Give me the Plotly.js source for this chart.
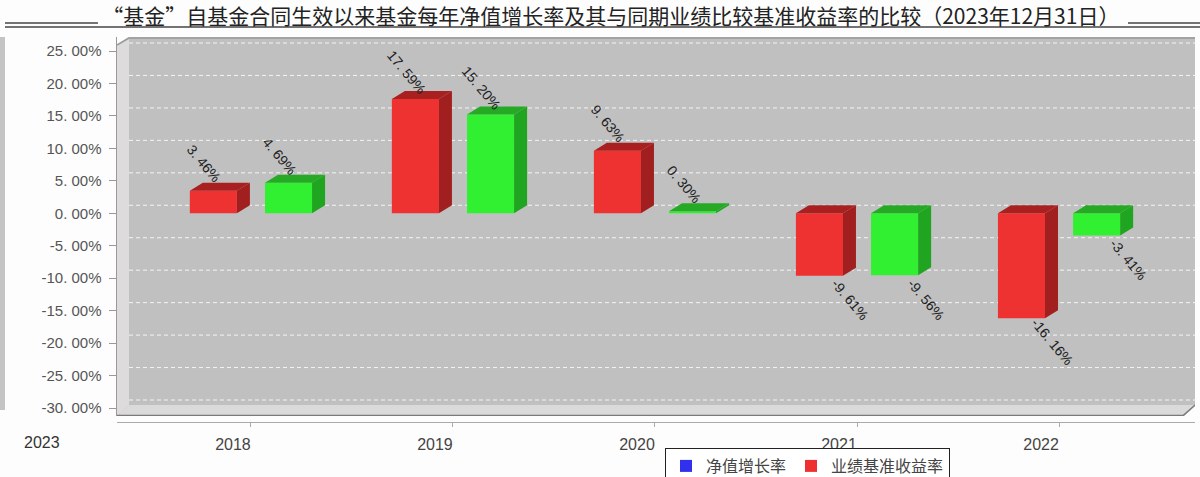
<!DOCTYPE html>
<html><head><meta charset="utf-8">
<script src="https://cdn.plot.ly/plotly-3.0.1.min.js"></script>
<style>html,body{margin:0;padding:0;background:#fdfdfd;}#chart{width:1200px;height:477px;}</style>
</head><body><div id="chart"></div>
<script>
// ---------- data ----------
const years = ['2018', '2019', '2020', '2021', '2022'];
const redValues = [3.46, 17.59, 9.63, -9.61, -16.16];
const greenValues = [4.69, 15.20, 0.30, -9.56, -3.41];
const yTickVals = [25, 20, 15, 10, 5, 0, -5, -10, -15, -20, -25, -30];
const yTickText = ['25. 00%', '20. 00%', '15. 00%', '10. 00%', '5. 00%', '0. 00%', '-5. 00%', '-10. 00%', '-15. 00%', '-20. 00%', '-25. 00%', '-30. 00%'];
const legendNames = ['净值增长率', '业绩基准收益率'];
const titleText = '“基金”自基金合同生效以来基金每年净值增长率及其与同期业绩比较基准收益率的比较（2023年12月31日）';
const strayLabel = '2023';

// ---------- geometry helpers ----------
const W = 1200, H = 477, ML = 117, MR = 5, MT = 37, MB = 55;
const plotBottom = 416;
const pxPerCat = 202;
const xr0 = -0.663, xr1 = 4.673;
const yr0 = -31.233, yr1 = 27.157;
const kY = (plotBottom - MT) / (yr1 - yr0);
const X = px => xr0 + (px - ML) / pxPerCat;
const Y = py => yr1 - (py - MT) / kY;
const PX = px => (px - ML) / (W - ML - MR);
const PY = py => ((H - MB) - py) / (H - MT - MB);
const dX = 13 / pxPerCat, dY = 8 / kY;
const barW = 0.233, half = 0.186;
const CJK = 'Noto Sans CJK SC, Liberation Sans, sans-serif';
const LAT = 'Liberation Sans, Noto Sans CJK SC, sans-serif';

const idx = years.map((_, i) => i);
const fmt = v => v.toFixed(2).replace('.', '. ') + '%';

function faces(values, center) {
  const top = {x: [], y: []}, side = {x: [], y: []};
  values.forEach((v, i) => {
    const xl = i + center - barW / 2, xr = i + center + barW / 2;
    const t = Math.max(v, 0), b = Math.min(v, 0);
    top.x.push(xl, xr, xr + dX, xl + dX, xl, null);
    top.y.push(t, t, t + dY, t + dY, t, null);
    side.x.push(xr, xr + dX, xr + dX, xr, xr, null);
    side.y.push(t, t + dY, b + dY, b, t, null);
  });
  return {top, side};
}

function faceTraces(values, center, topColor, sideColor) {
  const f = faces(values, center);
  const base = {type: 'scatter', mode: 'lines', fill: 'toself', line: {width: 0}, hoverinfo: 'skip', showlegend: false};
  return [
    Object.assign({}, base, {x: f.top.x, y: f.top.y, fillcolor: topColor}),
    Object.assign({}, base, {x: f.side.x, y: f.side.y, fillcolor: sideColor})
  ];
}

const traces = [];
traces.push({type: 'bar', x: idx, y: redValues, width: barW, offset: -half - barW / 2,
  marker: {color: '#ee3131', line: {width: 0}}, showlegend: false, hoverinfo: 'skip'});
traces.push({type: 'bar', x: idx, y: greenValues, width: barW, offset: half - barW / 2,
  marker: {color: '#31f031', line: {width: 0}}, showlegend: false, hoverinfo: 'skip'});
traces.push(...faceTraces(redValues, -half, '#a82020', '#a21f1f'));
traces.push(...faceTraces(greenValues, half, '#26aa26', '#20a520'));
// legend entries
traces.push({type: 'bar', x: [null], y: [null], name: legendNames[0], marker: {color: '#3030ee'}, showlegend: true, hoverinfo: 'skip'});
traces.push({type: 'bar', x: [null], y: [null], name: legendNames[1], marker: {color: '#ee3030'}, showlegend: true, hoverinfo: 'skip'});

// ---------- annotations ----------
const annotations = [];
[[redValues, -half], [greenValues, half]].forEach(([vals, c]) => {
  vals.forEach((v, i) => {
    const pos = v >= 0;
    annotations.push({x: i + c, y: v, xref: 'x', yref: 'y', text: fmt(v), showarrow: false,
      textangle: 50, font: {family: LAT, size: 14, color: '#222'},
      xanchor: 'center', yanchor: 'middle',
      xshift: pos ? -9 : 31, yshift: pos ? 27 : -24});
  });
});
annotations.push({xref: 'paper', yref: 'paper', x: PX(42), y: PY(442), text: strayLabel, showarrow: false,
  font: {family: LAT, size: 16, color: '#333'}, xanchor: 'center', yanchor: 'middle'});

// ---------- shapes ----------
const path = pts => 'M' + pts.map(p => X(p[0]) + ',' + Y(p[1])).join(' L') + ' Z';
const shapes = [];
yTickVals.forEach(v => {
  shapes.push({type: 'line', xref: 'x', yref: 'y', layer: 'between', x0: X(129), x1: xr1, y0: v + dY, y1: v + dY,
    line: {color: '#f4f4f4', width: 1, dash: '4px,3px'}});
});
shapes.push({type: 'path', xref: 'x', yref: 'y', layer: 'between', path: path([[117, 45], [129, 37], [129, 405], [117, 416]]),
  fillcolor: '#dcdcdc', line: {width: 0}});
shapes.push({type: 'path', xref: 'x', yref: 'y', layer: 'between', path: path([[117, 416], [1183, 416], [1195, 405], [129, 405]]),
  fillcolor: '#dadada', line: {width: 0}});
shapes.push({type: 'path', xref: 'x', yref: 'y', layer: 'between', path: path([[116, 36], [130, 36], [116, 45]]),
  fillcolor: '#fdfdfd', line: {width: 0}});
shapes.push({type: 'path', xref: 'x', yref: 'y', layer: 'between', path: path([[1183, 417], [1196, 417], [1196, 405]]),
  fillcolor: '#fdfdfd', line: {width: 0}});
shapes.push({type: 'path', xref: 'x', yref: 'y', layer: 'between',
  path: 'M' + X(117) + ',' + Y(45) + ' L' + X(129) + ',' + Y(38) + ' L' + X(1195) + ',' + Y(38),
  line: {color: '#999', width: 1.5}});
shapes.push({type: 'path', xref: 'x', yref: 'y', layer: 'between',
  path: 'M' + X(117) + ',' + Y(415.5) + ' L' + X(1183) + ',' + Y(415.5) + ' L' + X(1195) + ',' + Y(405),
  line: {color: '#7a7a7a', width: 1.5}});
shapes.push({type: 'line', xref: 'paper', yref: 'paper', x0: PX(5), x1: PX(1200), y0: PY(27), y1: PY(27), line: {color: '#444', width: 1.5}});
shapes.push({type: 'line', xref: 'paper', yref: 'paper', x0: PX(5), x1: PX(98), y0: PY(23), y1: PY(23), line: {color: '#444', width: 1.5}});
shapes.push({type: 'line', xref: 'paper', yref: 'paper', x0: PX(1128), x1: PX(1200), y0: PY(23), y1: PY(23), line: {color: '#444', width: 1.5}});
shapes.push({type: 'rect', xref: 'paper', yref: 'paper', x0: PX(0), x1: PX(5), y0: PY(410), y1: PY(37), fillcolor: '#c4c4c4', line: {width: 0}});

const layout = {
  width: W, height: H,
  margin: {l: ML, r: MR, t: MT, b: MB, pad: 0, autoexpand: false},
  paper_bgcolor: '#fdfdfd', plot_bgcolor: '#c0c0c0',
  barmode: 'overlay',
  title: {text: titleText, font: {family: CJK, size: 21, color: '#222'}, x: 0.509, xanchor: 'center', y: 1 - 17 / H, yanchor: 'middle', automargin: false},
  xaxis: {range: [xr0, xr1], tickvals: idx, ticktext: years, anchor: 'free', position: 0,
    showline: true, linecolor: '#aaa', linewidth: 1, ticks: 'outside', ticklen: 4, tickcolor: '#aaa',
    tickfont: {family: LAT, size: 16, color: '#444'}, ticklabelshift: -18, ticklabelstandoff: 4,
    showgrid: false, zeroline: false, fixedrange: true, automargin: false},
  yaxis: {domain: [(H - MB - plotBottom) / (H - MT - MB), 1], range: [yr0, yr1],
    tickvals: yTickVals, ticktext: yTickText, ticks: 'outside', ticklen: 7, tickcolor: '#999',
    showline: true, linecolor: '#a09898', linewidth: 1.5, showgrid: false, zeroline: false,
    tickfont: {family: LAT, size: 15, color: '#555'}, ticklabelstandoff: 4, fixedrange: true, automargin: false},
  showlegend: true,
  legend: {orientation: 'h', x: PX(665), xanchor: 'left', y: PY(448), yanchor: 'top',
    bordercolor: '#222', borderwidth: 1, bgcolor: '#fff', font: {family: CJK, size: 16, color: '#444'},
    itemwidth: 30, tracegroupgap: 0},
  shapes: shapes,
  annotations: annotations
};
Plotly.newPlot('chart', traces, layout, {displayModeBar: false, staticPlot: true});
</script>
</body></html>
